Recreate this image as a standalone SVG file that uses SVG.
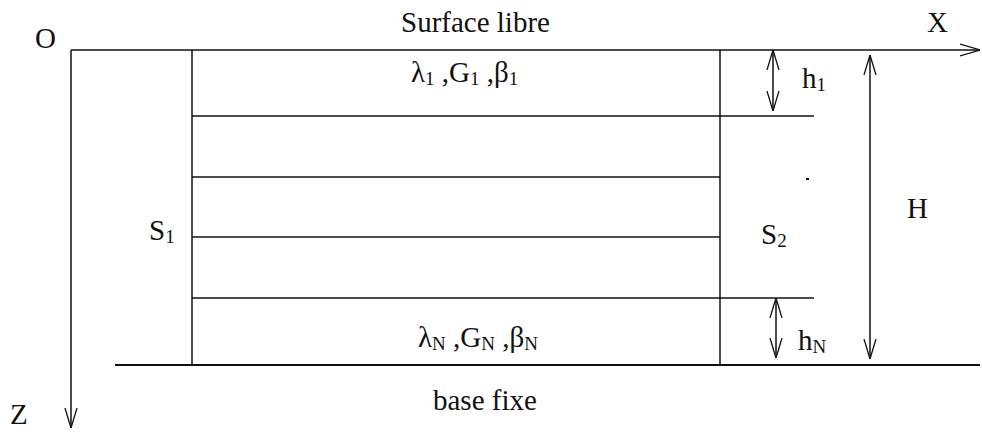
<svg xmlns="http://www.w3.org/2000/svg" width="982" height="435" viewBox="0 0 982 435">
<style>
  .ln { stroke: #111; stroke-width: 1.5; fill: none; }
  .thick { stroke: #111; stroke-width: 2.2; fill: none; }
  .t { font-family: "Liberation Serif", "Times New Roman", serif; font-size: 29px; fill: #111; }
  .sub { font-size: 19px; }
</style>
<defs>
  <marker id="open" viewBox="0 0 20 14" refX="20" refY="7" markerWidth="20" markerHeight="14" markerUnits="userSpaceOnUse" orient="auto-start-reverse">
    <path d="M0,1 L20,7 L0,13" fill="none" stroke="#111" stroke-width="1.3"/>
  </marker>
</defs>
<rect width="982" height="435" fill="#fff"/>

<g id="axes">
  <line class="ln" x1="71" y1="50" x2="980" y2="50" marker-end="url(#open)"/>
  <line class="ln" x1="71" y1="50" x2="71" y2="428" marker-end="url(#open)"/>
  <text class="t" x="35" y="48" font-size="30">O</text>
  <text class="t" x="927" y="32">X</text>
  <text class="t" x="10" y="424">Z</text>
</g>

<g id="layers">
  <line class="ln" x1="192" y1="50" x2="192" y2="365"/>
  <line class="ln" x1="720" y1="50" x2="720" y2="365"/>
  <line class="ln" x1="192" y1="116" x2="814" y2="116"/>
  <line class="ln" x1="192" y1="177" x2="720" y2="177"/>
  <line class="ln" x1="192" y1="237" x2="720" y2="237"/>
  <line class="ln" x1="192" y1="298" x2="814" y2="298"/>
  <line class="thick" x1="115" y1="365" x2="980" y2="365"/>
  <rect x="806" y="178" width="3" height="2" fill="#111"/>
</g>

<g id="labels">
  <text class="t" x="401" y="32">Surface libre</text>
  <text class="t" x="411" y="82">λ<tspan class="sub" dy="3">1</tspan><tspan dy="-3"> ,G</tspan><tspan class="sub" dy="3">1</tspan><tspan dy="-3"> ,β</tspan><tspan class="sub" dy="3">1</tspan></text>
  <text class="t" x="418" y="347">λ<tspan class="sub" dy="3">N</tspan><tspan dy="-3"> ,G</tspan><tspan class="sub" dy="3">N</tspan><tspan dy="-3"> ,β</tspan><tspan class="sub" dy="3">N</tspan></text>
  <text class="t" x="433" y="410">base fixe</text>
  <text class="t" x="149" y="240">S<tspan class="sub" dy="3">1</tspan></text>
  <text class="t" x="761" y="244">S<tspan class="sub" dy="3">2</tspan></text>
</g>

<g id="connectors">
  <line class="ln" x1="773" y1="50" x2="773" y2="111" marker-start="url(#open)" marker-end="url(#open)"/>
  <line class="ln" x1="870" y1="55" x2="870" y2="359" marker-start="url(#open)" marker-end="url(#open)"/>
  <line class="ln" x1="776" y1="298" x2="776" y2="358" marker-start="url(#open)" marker-end="url(#open)"/>
</g>

<g id="dims">
  <text class="t" x="802" y="88">h<tspan class="sub" dy="3">1</tspan></text>
  <text class="t" x="907" y="218">H</text>
  <text class="t" x="798" y="350">h<tspan class="sub" dy="3">N</tspan></text>
</g>
</svg>
